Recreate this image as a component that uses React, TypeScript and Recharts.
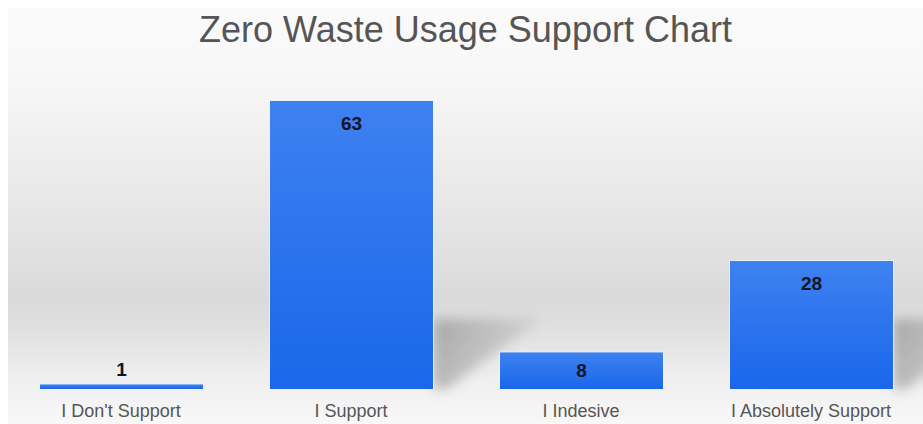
import React from "react";
import { BarChart, Bar, XAxis, YAxis, LabelList } from "recharts";

const categories: string[] = ["I Don't Support", "I Support", "I Indesive", "I Absolutely Support"];
const supportValues: number[] = [1, 63, 8, 28];
const chartTitle = "Zero Waste Usage Support Chart";
const yDomain: [number, number] = [0, 70];

const data = categories.map((name, i) => ({ name, value: supportValues[i] }));

const FONT = "Arial, 'Liberation Sans', sans-serif";

const BarShape = (props: any) => {
  const { x, y, width, height } = props;
  if (width == null || height == null) return null;
  const base = y + height;
  const sh = Math.min(70, height * 0.55);
  const right = x + width;
  const shadow = `${right},${base} ${right},${base - sh} ${right + sh * 1.55},${base - sh} ${right + sh * 0.2},${base}`;
  return (
    <g>
      {height > 50 && (
        <polygon points={shadow} fill="url(#shadowGrad)" filter="url(#shadowBlur)" />
      )}
      <rect x={x - 1} y={y - 1} width={width + 2} height={height + 1} fill="#eaf4fb" opacity={0.8} />
      <rect x={x} y={y} width={width} height={height} fill="url(#barGrad)" />
    </g>
  );
};

const ValueLabel = (props: any) => {
  const { x, y, width, height, value } = props;
  let cy: number;
  if (height >= 44) cy = y + 22;
  else if (height >= 20) cy = y + height / 2;
  else cy = y - 15;
  return (
    <text
      x={x + width / 2}
      y={cy}
      textAnchor="middle"
      dominantBaseline="central"
      fontFamily={FONT}
      fontWeight="bold"
      fontSize={19}
      fill="#121426"
    >
      {value}
    </text>
  );
};

const CatTick = (props: any) => {
  const { x, y, payload } = props;
  return (
    <text
      x={x}
      y={y + 22}
      textAnchor="middle"
      dominantBaseline="central"
      fontFamily={FONT}
      fontSize={18}
      fill="#555555"
    >
      {payload.value}
    </text>
  );
};

export default function App() {
  return (
    <div
      style={{
        position: "absolute",
        left: 8,
        top: 8,
        width: 915,
        height: 416,
        overflow: "hidden",
        background:
          "linear-gradient(to bottom, #fafafa 0%, #f8f8f8 15%, #f1f1f1 29%, #e8e8e8 46%, #e0e0e0 60%, #d9d9d9 70%, #e3e3e3 80%, #efefef 89%, #f8f8f8 100%)",
      }}
    >
      <svg width={0} height={0} style={{ position: "absolute" }}>
        <defs>
          <linearGradient id="barGrad" x1="0" y1="0" x2="0" y2="1">
            <stop offset="0%" stopColor="#3e81f1" />
            <stop offset="100%" stopColor="#1a67ea" />
          </linearGradient>
          <linearGradient id="shadowGrad" x1="0" y1="0" x2="1" y2="0">
            <stop offset="0%" stopColor="#000" stopOpacity={0.24} />
            <stop offset="100%" stopColor="#000" stopOpacity={0.06} />
          </linearGradient>
          <filter id="shadowBlur" x="-50%" y="-50%" width="200%" height="200%">
            <feGaussianBlur stdDeviation="6" />
          </filter>
        </defs>
      </svg>
      <div
        style={{
          position: "absolute",
          left: 0,
          top: 2,
          width: 915,
          textAlign: "center",
          fontFamily: FONT,
          fontSize: 36,
          lineHeight: "40px",
          color: "#555555",
          whiteSpace: "nowrap",
        }}
      >
        {chartTitle}
      </div>
      <div style={{ position: "absolute", left: -2, top: 0 }}>
        <BarChart
          width={920}
          height={416}
          data={data}
          margin={{ top: 61, right: 0, bottom: 0, left: 0 }}
        >
          <XAxis
            dataKey="name"
            axisLine={false}
            tickLine={false}
            tickSize={0}
            tickMargin={0}
            height={35}
            interval={0}
            tick={<CatTick />}
          />
          <YAxis hide domain={yDomain} />
          <Bar dataKey="value" barSize={163} isAnimationActive={false} shape={<BarShape />}>
            <LabelList dataKey="value" content={<ValueLabel />} />
          </Bar>
        </BarChart>
      </div>
    </div>
  );
}
